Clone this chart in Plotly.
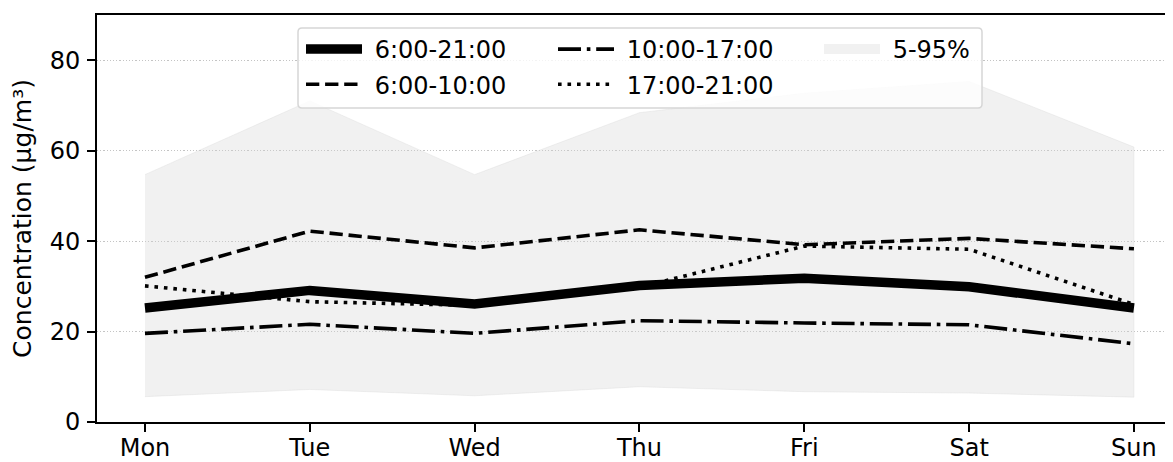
import plotly.graph_objects as go

# ---- data ----
days = ["Mon", "Tue", "Wed", "Thu", "Fri", "Sat", "Sun"]
all_day = [25.2, 29.1, 26.1, 30.2, 31.8, 29.9, 25.2]      # 6:00-21:00
morning = [32.0, 42.2, 38.5, 42.5, 39.2, 40.6, 38.3]      # 6:00-10:00
midday = [19.6, 21.6, 19.6, 22.4, 21.9, 21.5, 17.3]       # 10:00-17:00
evening = [30.1, 26.6, 25.8, 29.8, 38.9, 38.2, 26.0]      # 17:00-21:00
p5 = [5.6, 7.2, 5.8, 7.8, 6.7, 6.4, 5.5]
p95 = [54.7, 71.0, 54.7, 68.4, 72.7, 75.3, 60.8]
y_ticks = [0, 20, 40, 60, 80]

# ---- layout geometry ----
# the page body has an 8px margin, so the figure is shifted by OFF px
OFF = 8
W, H = 1173 - OFF, 462 - OFF
ML, MR, MT, MB = 97 - OFF, 0, 15 - OFF, 40
PW, PH = W - ML - MR, H - MT - MB


def px_x(px):  # window pixel -> paper fraction
    return (px - OFF - ML) / PW


def px_y(py):
    return (H - MB - (py - OFF)) / PH


FONT = "DejaVu Sans"
FS = 24
band_fill = "rgba(211,211,211,0.32)"

fig = go.Figure()

# 5-95 % band (closed polygon)
fig.add_trace(go.Scatter(
    x=days + days[::-1], y=p95 + p5[::-1],
    mode="lines", fill="toself", fillcolor=band_fill,
    line=dict(color=band_fill, width=1),
    showlegend=False, hoverinfo="skip"))

fig.add_trace(go.Scatter(
    x=days, y=all_day, mode="lines", name="\u00a06:00-21:00",
    line=dict(color="black", width=9.5), legend="legend", legendrank=1,
    legendgroup="a"))
fig.add_trace(go.Scatter(
    x=days, y=morning, mode="lines", name="\u00a06:00-10:00",
    line=dict(color="black", width=3.6, dash="13.3px,5.8px"),
    legend="legend", legendrank=2, legendgroup="b"))
fig.add_trace(go.Scatter(
    x=days, y=midday, mode="lines", name="\u00a010:00-17:00",
    line=dict(color="black", width=3.6, dash="23px,5.8px,3.6px,5.8px"),
    legend="legend2", legendrank=1, legendgroup="c"))
fig.add_trace(go.Scatter(
    x=days, y=evening, mode="lines", name="\u00a017:00-21:00",
    line=dict(color="black", width=3.6, dash="3.6px,5.9px"),
    legend="legend2", legendrank=2, legendgroup="d"))
# legend-only entry for the band
fig.add_trace(go.Scatter(
    x=[None], y=[None], mode="lines", name="\u00a05-95%",
    line=dict(color=band_fill, width=10), legend="legend3", legendgroup="e"))

# legend frame (matplotlib-style rounded box)
x0, x1 = px_x(298), px_x(982)
y0, y1 = px_y(108), px_y(28)
rx, ry = 4 / PW, 4 / PH
path = (f"M{x0+rx},{y1} L{x1-rx},{y1} Q{x1},{y1} {x1},{y1-ry} "
        f"L{x1},{y0+ry} Q{x1},{y0} {x1-rx},{y0} L{x0+rx},{y0} "
        f"Q{x0},{y0} {x0},{y0+ry} L{x0},{y1-ry} Q{x0},{y1} {x0+rx},{y1} Z")
fig.add_shape(type="path", path=path, xref="paper", yref="paper",
              fillcolor="rgba(255,255,255,0.8)",
              line=dict(color="#d6d6d6", width=1.5), layer="above")

leg_common = dict(
    orientation="v", xanchor="left", yanchor="top",
    bgcolor="rgba(0,0,0,0)", borderwidth=0,
    font=dict(family=FONT, size=FS, color="black"),
    itemwidth=56, traceorder="grouped", tracegroupgap=1,
)
LEG_TOP = 27
fig.update_layout(
    legend=dict(x=px_x(301), y=px_y(LEG_TOP), **leg_common),
    legend2=dict(x=px_x(553), y=px_y(LEG_TOP), **leg_common),
    legend3=dict(x=px_x(819), y=px_y(LEG_TOP), **leg_common),
)

fig.update_layout(
    width=W, height=H,
    margin=dict(l=ML, r=MR, t=MT, b=MB, pad=0, autoexpand=False),
    paper_bgcolor="white", plot_bgcolor="white",
    font=dict(family=FONT, size=FS, color="black"),
    xaxis=dict(
        type="category", categoryorder="array", categoryarray=days,
        range=[-0.291, 6.237], showgrid=False, zeroline=False, automargin=False,
        showline=True, linecolor="black", linewidth=1.9, mirror=True,
        ticks="outside", ticklen=8, tickwidth=1.9, tickcolor="black",
        tickfont=dict(family=FONT, size=FS, color="black"),
        ticklabelstandoff=-5,
    ),
    yaxis=dict(
        range=[0, 90], tickvals=y_ticks, zeroline=False, automargin=False,
        showgrid=True, gridcolor="#c4c4c4", gridwidth=1.2, griddash="1.2px,2px",
        showline=True, linecolor="black", linewidth=1.9, mirror=False,
        ticks="outside", ticklen=8, tickwidth=1.9, tickcolor="black",
        tickfont=dict(family=FONT, size=FS, color="black"),
        ticklabelstandoff=2,
        title=dict(text="Concentration (µg/m³)",
                   font=dict(family=FONT, size=25, color="black"), standoff=11),
    ),
)

fig.write_html("out.html")
